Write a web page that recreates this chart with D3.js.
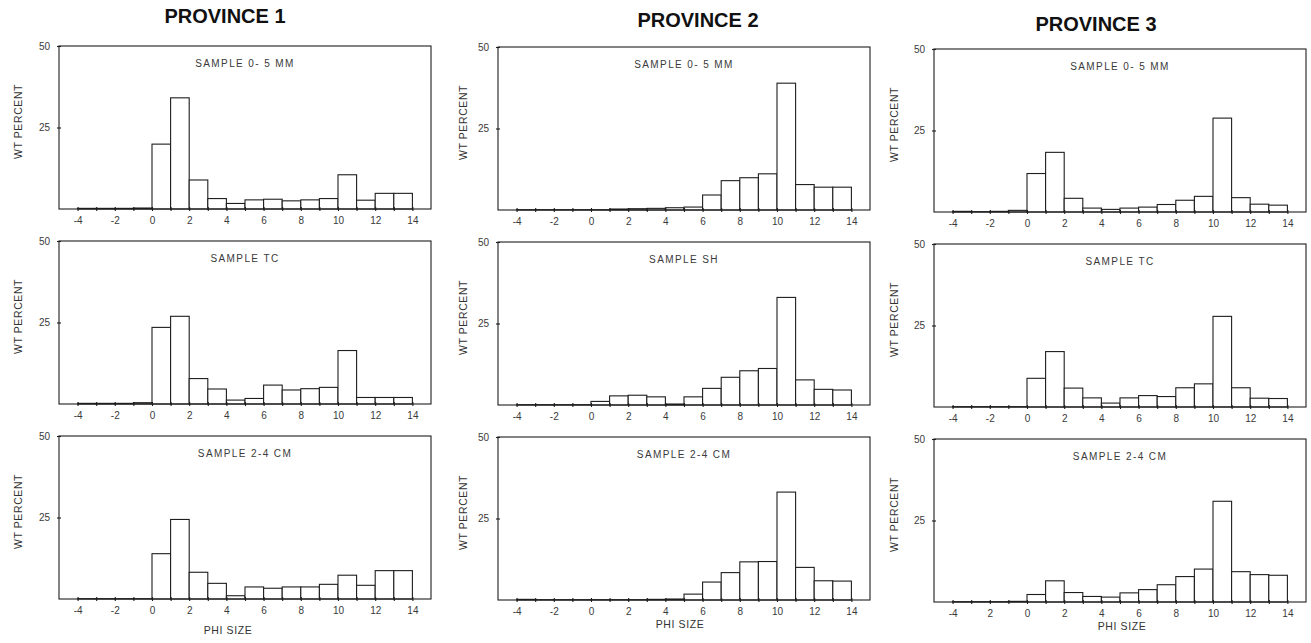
<!DOCTYPE html>
<html lang="en">
<head>
  <meta charset="UTF-8">
  <title>Phi size distributions by province</title>
  <script src="https://d3js.org/d3.v7.min.js"></script>
  <style>
    body {
      margin: 0;
      background: #fff;
      font-family: "Liberation Sans", Arial, sans-serif;
    }
    svg {
      display: block;
    }
    .frame, .bar, .tick line, .domain {
      stroke: #1e1e1e;
      stroke-width: 1.1;
    }
    .bar {
      fill: #fff;
    }
    .frame {
      fill: none;
    }
    .tick text {
      font-size: 10px;
      fill: #3a3a3a;
    }
    .province {
      font-size: 20px;
      font-weight: bold;
      fill: #111;
    }
    .sample {
      font-size: 10px;
      letter-spacing: 1.4px;
      fill: #3a3a3a;
    }
    .ylabel, .xlabel {
      font-size: 10.5px;
      letter-spacing: 0.6px;
      fill: #333;
    }
  </style>
</head>
<body>
<svg width="1311" height="643"></svg>
<script>
  // Data: weight percent per 1-phi class (class starts at the bin value)
  const provinces = ["PROVINCE 1", "PROVINCE 2", "PROVINCE 3"];
  const phiBins = [-4, -3, -2, -1, 0, 1, 2, 3, 4, 5, 6, 7, 8, 9, 10, 11, 12, 13];
  const xTickLabels = [-4, -2, 0, 2, 4, 6, 8, 10, 12, 14];
  const yTickLabels = [25, 50];

  const sampleNames = [
    ["SAMPLE 0- 5 MM", "SAMPLE TC", "SAMPLE 2-4 CM"],
    ["SAMPLE 0- 5 MM", "SAMPLE SH", "SAMPLE 2-4 CM"],
    ["SAMPLE 0- 5 MM", "SAMPLE TC", "SAMPLE 2-4 CM"]
  ];

  const p1Top = [0.2, 0.2, 0.2, 0.3, 19.9, 34.1, 8.9, 3.2, 1.7, 2.8, 3.0, 2.5, 2.8, 3.2, 10.5, 2.7, 4.8, 4.8];
  const p1Tc  = [0.2, 0.2, 0.2, 0.4, 23.5, 26.9, 7.8, 4.6, 1.2, 1.7, 5.8, 4.3, 4.7, 5.1, 16.4, 2.0, 2.0, 2.0];
  const p1Cm  = [0.1, 0.1, 0.1, 0.1, 13.9, 24.4, 8.2, 4.8, 1.0, 3.7, 3.3, 3.7, 3.7, 4.5, 7.3, 4.2, 8.7, 8.7];

  const p2Top = [0.1, 0.1, 0.1, 0.1, 0.1, 0.3, 0.4, 0.5, 0.7, 0.9, 4.6, 9.0, 9.9, 11.1, 38.9, 7.8, 7.0, 7.0];
  const p2Sh  = [0.1, 0.1, 0.1, 0.1, 1.1, 2.8, 3.0, 2.5, 0.3, 2.5, 5.1, 8.5, 10.5, 11.2, 33.0, 7.7, 4.8, 4.6];
  const p2Cm  = [0.2, 0.1, 0.1, 0.1, 0.1, 0.1, 0.1, 0.2, 0.3, 1.8, 5.5, 8.4, 11.7, 11.8, 33.1, 10.0, 5.9, 5.8];

  const p3Top = [0.2, 0.1, 0.2, 0.5, 11.8, 18.3, 4.2, 1.2, 0.8, 1.2, 1.5, 2.3, 3.6, 4.8, 28.8, 4.4, 2.4, 2.1];
  const p3Tc  = [0.1, 0.1, 0.1, 0.1, 8.8, 17.0, 5.8, 2.8, 1.2, 2.8, 3.5, 3.2, 5.9, 7.1, 27.8, 5.9, 2.7, 2.6];
  const p3Cm  = [0.1, 0.1, 0.1, 0.2, 2.3, 6.5, 2.9, 1.7, 1.5, 2.8, 3.8, 5.3, 7.8, 10.1, 30.9, 9.3, 8.4, 8.2];

  const panelValues = [
    [p1Top, p1Tc, p1Cm],
    [p2Top, p2Sh, p2Cm],
    [p3Top, p3Tc, p3Cm]
  ];

  // Layout
  const colLeft = [59, 498, 934];
  const colDy = [0, 1, 3];
  const rowTop = [46, 241, 436];
  const plotW = 372, plotH = 163;
  const titleX = [225, 698, 1096];
  const titleY = [23, 27, 31];
  const phiLabelX = [228, 680, 1122];

  const svg = d3.select("svg");

  const x = d3.scaleLinear().domain([-5, 15]).range([0, plotW]);
  const y = d3.scaleLinear().domain([0, 50]).range([plotH, 0]);

  // Province titles
  svg.selectAll("text.province")
    .data(provinces)
    .join("text")
    .attr("class", "province")
    .attr("x", (d, i) => titleX[i])
    .attr("y", (d, i) => titleY[i])
    .attr("text-anchor", "middle")
    .text(d => d);

  provinces.forEach((prov, c) => {
    panelValues[c].forEach((values, r) => {
      const g = svg.append("g")
        .attr("transform", `translate(${colLeft[c]},${rowTop[r] + colDy[c]})`);

      const bins = phiBins.map((b, i) => ({ phi: b, v: values[i] }));

      // Bars (open histogram blocks)
      g.selectAll("rect.bar")
        .data(bins)
        .join("rect")
        .attr("class", "bar")
        .attr("x", d => x(d.phi))
        .attr("width", d => x(d.phi + 1) - x(d.phi))
        .attr("y", d => y(d.v))
        .attr("height", d => y(0) - y(d.v));

      // Frame
      g.append("rect")
        .attr("class", "frame")
        .attr("width", plotW)
        .attr("height", plotH);

      // X axis: cross ticks at every phi, labels on even values
      const xAxis = g.append("g")
        .attr("transform", `translate(0,${plotH})`)
        .call(d3.axisBottom(x)
          .tickValues(phiBins.concat([14]))
          .tickSize(2)
          .tickPadding(6)
          .tickFormat(d => {
            if (!xTickLabels.includes(d)) return "";
            if (c === 2 && r === 2 && d === -2) return "2";
            return d;
          }));
      xAxis.select(".domain").remove();
      xAxis.selectAll(".tick line").attr("y1", -2).attr("y2", 2);
      xAxis.selectAll(".tick text").attr("font-family", null);

      // Y axis
      const yAxis = g.append("g")
        .call(d3.axisLeft(y)
          .tickValues(yTickLabels)
          .tickSize(2)
          .tickPadding(7));
      yAxis.select(".domain").remove();
      yAxis.selectAll(".tick line").attr("x1", -2).attr("x2", 2);
      yAxis.selectAll(".tick text").attr("font-family", null);

      // Sample title
      g.append("text")
        .attr("class", "sample")
        .attr("x", plotW / 2)
        .attr("y", 21)
        .attr("text-anchor", "middle")
        .text(sampleNames[c][r]);

      // Y label
      g.append("text")
        .attr("class", "ylabel")
        .attr("transform", `translate(${c === 0 ? -37 : (c === 1 ? -31 : -36)},${plotH / 2 - 6}) rotate(-90)`)
        .attr("text-anchor", "middle")
        .text("WT PERCENT");

      if (r === 2) {
        g.append("text")
          .attr("class", "xlabel")
          .attr("x", phiLabelX[c] - colLeft[c])
          .attr("y", plotH + (c === 0 ? 35 : 28))
          .attr("text-anchor", "middle")
          .text("PHI SIZE");
      }
    });
  });
</script>
</body>
</html>
